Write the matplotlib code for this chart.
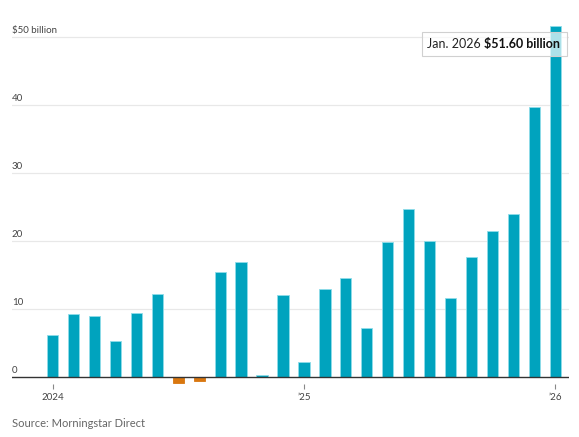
import matplotlib
matplotlib.use("Agg")
import matplotlib.pyplot as plt
from matplotlib.patches import Rectangle
from matplotlib.transforms import blended_transform_factory, offset_copy

plt.rcParams['font.family'] = ['Lato', 'DejaVu Sans']

# Monthly net flows, Jan 2024 - Jan 2026 ($ billion)
months = ['2024-01', '2024-02', '2024-03', '2024-04', '2024-05', '2024-06',
          '2024-07', '2024-08', '2024-09', '2024-10', '2024-11', '2024-12',
          '2025-01', '2025-02', '2025-03', '2025-04', '2025-05', '2025-06',
          '2025-07', '2025-08', '2025-09', '2025-10', '2025-11', '2025-12',
          '2026-01']
flows = [6.2, 9.3, 9.0, 5.4, 9.5, 12.3, -0.8, -0.5, 15.5, 17.0, 0.3, 12.1,
         2.3, 13.0, 14.6, 7.2, 19.9, 24.8, 20.0, 11.6, 17.7, 21.5, 24.0, 39.7,
         51.6]
y_ticks = [0, 10, 20, 30, 40, 50]
y_labels = ['0', '10', '20', '30', '40', '$50 billion']
x_tick_idx = [0, 12, 24]
x_labels = ['2024', '\u201925', '\u201926']

pos_color = '#00a3be'
neg_color = '#d9770f'
grey = '#666666'

fig = plt.figure(figsize=(5.79, 4.37), dpi=100)
ax = fig.add_axes([0.0207, 0.121, 0.962, 0.8248])

x = list(range(len(flows)))
colors = [pos_color if v >= 0 else neg_color for v in flows]
edges = ['#8fdde9' if v >= 0 else neg_color for v in flows]
ax.bar(x, flows, width=0.54, color=colors, edgecolor=edges, linewidth=0.6, zorder=3)

ax.set_xlim(-1.944, 24.66)
ax.set_ylim(-1, 52)

# gridlines and baseline
for v in y_ticks[1:]:
    ax.axhline(v, color='#e8e8e8', lw=0.9, zorder=1)
ax.axhline(0, color='#333333', lw=1.0, zorder=4)

# y labels sit on top of the gridlines, flush left
tr = blended_transform_factory(ax.transAxes, ax.transData)
tr = offset_copy(tr, fig=fig, x=0, y=2, units='points')
for v, lab in zip(y_ticks, y_labels):
    ax.text(0.0, v, lab, transform=tr, ha='left', va='bottom',
            fontsize=7, color='#444444')

ax.set_yticks([])
ax.set_xticks(x_tick_idx)
ax.set_xticklabels(x_labels, fontsize=7, color='#444444')
ax.tick_params(axis='x', length=3.5, width=0.8, color='#888888', pad=3)
for s in ax.spines.values():
    s.set_visible(False)

# hover tooltip for the last bar
box = (0.7356, 0.9104)
bw, bh = 0.2609, 0.0674
ax.add_patch(Rectangle(box, bw, bh, transform=ax.transAxes,
                       facecolor='white', alpha=0.68, edgecolor='none', zorder=5))
ax.add_patch(Rectangle(box, bw, bh, transform=ax.transAxes,
                       facecolor='none', edgecolor='#d0d0d0', lw=0.8, zorder=6))
t1 = ax.text(0.7445, 0.9317, 'Jan. 2026 ', transform=ax.transAxes,
             fontsize=9.0, color='#222222', va='baseline', zorder=7)
ax.annotate('$51.60 billion', xy=(1, 0), xycoords=t1, va='bottom',
            fontsize=9.0, fontweight='bold', color='#111111', zorder=7)

fig.text(0.0207, 0.032, 'Source: Morningstar Direct', fontsize=8,
         color=grey, ha='left', va='center')

fig.savefig('out.png', dpi=100)
